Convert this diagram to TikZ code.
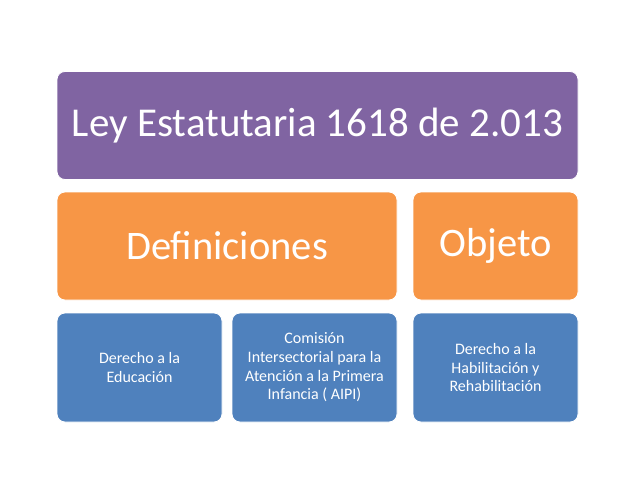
\documentclass[tikz,border=0pt]{standalone}
\usepackage{fontspec}
\setmainfont{Carlito}
\definecolor{lpurple}{HTML}{8064A2}
\definecolor{lorange}{HTML}{F79646}
\definecolor{lblue}{HTML}{4F81BD}
\begin{document}
\begin{tikzpicture}[x=1pt,y=-1pt,
  card/.style={rounded corners=8pt, draw=white, line width=0.8pt, text=white, align=center, inner sep=0pt},
  big/.style={card, fill=lpurple, font=\fontsize{41}{46}\selectfont},
  mid/.style={card, fill=lorange, font=\fontsize{40.5}{46}\selectfont},
  small/.style={card, fill=lblue, font=\fontsize{16}{18.7}\selectfont}]
\useasboundingbox (0,0) rectangle (640,479);
\node[big, minimum width=521pt, minimum height=108pt] (ley) at (317.5,125.5) {Ley Estatutaria 1618 de 2.013};
\node[mid, minimum width=340pt, minimum height=108pt] (def) at (227,246) {Definiciones};
\node[mid, minimum width=165pt, minimum height=108pt] (obj) at (495.5,246) {Objeto};
\node[small, minimum width=165pt, minimum height=109pt] (edu) at (139.5,367.5) {Derecho a la\\Educación};
\node[small, minimum width=165pt, minimum height=109pt] (aipi) at (314.5,367.5) {Comisión\\Intersectorial para la\\Atención a la Primera\\Infancia ( AIPI)};
\node[small, minimum width=165pt, minimum height=109pt] (hab) at (495.5,367.5) {Derecho a la\\Habilitación y\\Rehabilitación};
\end{tikzpicture}
\end{document}
